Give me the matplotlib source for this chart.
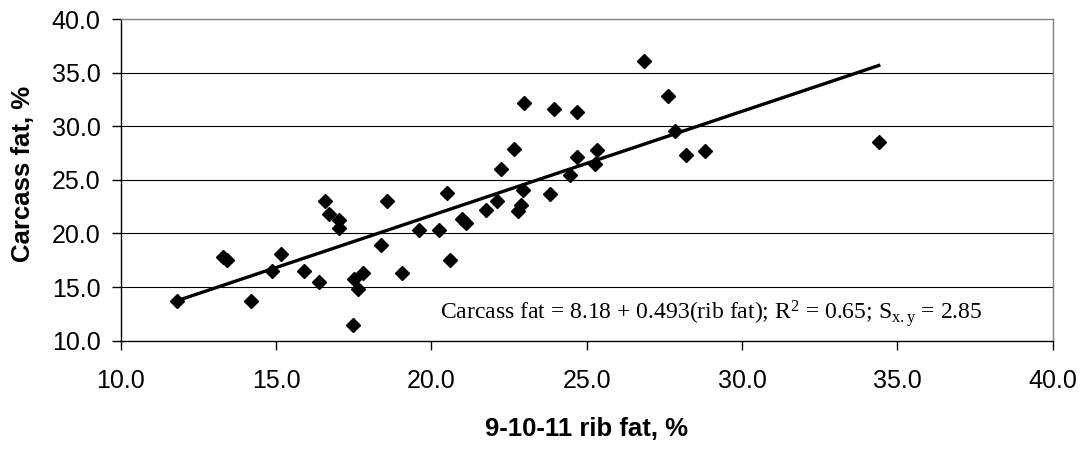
import numpy as np
import matplotlib.pyplot as plt

plt.rcParams['mathtext.fontset'] = 'custom'
plt.rcParams['mathtext.rm'] = 'Liberation Serif'
plt.rcParams['mathtext.it'] = 'Liberation Serif:italic'

# 9-10-11 rib fat (%) and carcass fat (%)
rib_fat = [11.80, 13.28, 13.41, 14.18, 14.88, 15.15, 15.91, 16.37, 16.57, 16.70,
           17.02, 17.02, 17.49, 17.51, 17.65, 17.80, 18.38, 18.56, 19.07, 19.59,
           20.23, 20.49, 20.61, 20.98, 21.12, 21.77, 22.10, 22.25, 22.67, 22.79,
           22.89, 22.94, 22.99, 23.82, 23.95, 24.46, 24.68, 24.68, 25.27, 25.32,
           26.86, 27.63, 27.83, 28.20, 28.80, 34.40]
carcass_fat = [13.68, 17.82, 17.57, 13.68, 16.51, 18.13, 16.51, 15.48, 23.08, 21.84,
               21.25, 20.53, 11.43, 15.76, 14.83, 16.32, 18.97, 23.05, 16.32, 20.37,
               20.37, 23.83, 17.54, 21.34, 21.00, 22.18, 23.02, 26.07, 27.94, 22.12,
               22.68, 24.05, 32.21, 23.68, 31.59, 25.48, 31.40, 27.17, 26.48, 27.79,
               36.14, 32.83, 29.60, 27.32, 27.73, 28.57]

# trend line as drawn on the chart
trend_x = [11.9, 34.4]
trend_y = [13.8, 35.7]

ticks = [10, 15, 20, 25, 30, 35, 40]

fig = plt.figure(figsize=(10.87, 4.51), dpi=100)
ax = fig.add_axes([0.111, 0.245, 0.8575, 0.7118])

ax.set_xlim(10, 40)
ax.set_ylim(10, 40)
ax.set_xticks(ticks)
ax.set_yticks(ticks)
ax.set_xticklabels(['%.1f' % t for t in ticks])
ax.set_yticklabels(['%.1f' % t for t in ticks])

# horizontal gridlines
for t in ticks[1:-1]:
    ax.axhline(t, color='black', lw=0.8, zorder=1)

ax.plot(trend_x, trend_y, color='black', lw=2.4, zorder=2)
ax.plot(rib_fat, carcass_fat, 'D', color='black', markersize=7.3, zorder=3)

ax.spines['top'].set_color('#808080')
ax.spines['right'].set_color('#808080')
ax.spines['left'].set_color('black')
ax.spines['bottom'].set_color('black')
for s in ax.spines.values():
    s.set_linewidth(1.0)

ax.tick_params(direction='out', length=6.5, width=1.0, labelsize=18,
               color='black')
ax.tick_params(axis='x', pad=14)
ax.tick_params(axis='y', pad=8)
for lab in ax.get_xticklabels() + ax.get_yticklabels():
    lab.set_family('Liberation Sans')

ax.set_xlabel('9-10-11 rib fat, %', fontsize=18.5, fontweight='bold',
              family='Liberation Sans')
ax.set_ylabel('Carcass fat, %', fontsize=18.5, fontweight='bold',
              family='Liberation Sans')
ax.xaxis.set_label_coords(0.5, -0.275)
ax.xaxis.label.set_verticalalignment('center')
ax.yaxis.set_label_coords(-0.1048, 0.518)
ax.yaxis.label.set_verticalalignment('center')

ax.text(20.28, 12.55,
        r'Carcass fat = 8.18 + 0.493(rib fat); R$^{2}$ = 0.65; S$_{\mathrm{x.y}}$ = 2.85',
        fontsize=17, family='Liberation Serif', va='center', ha='left')

fig.savefig('out.png', dpi=100)
